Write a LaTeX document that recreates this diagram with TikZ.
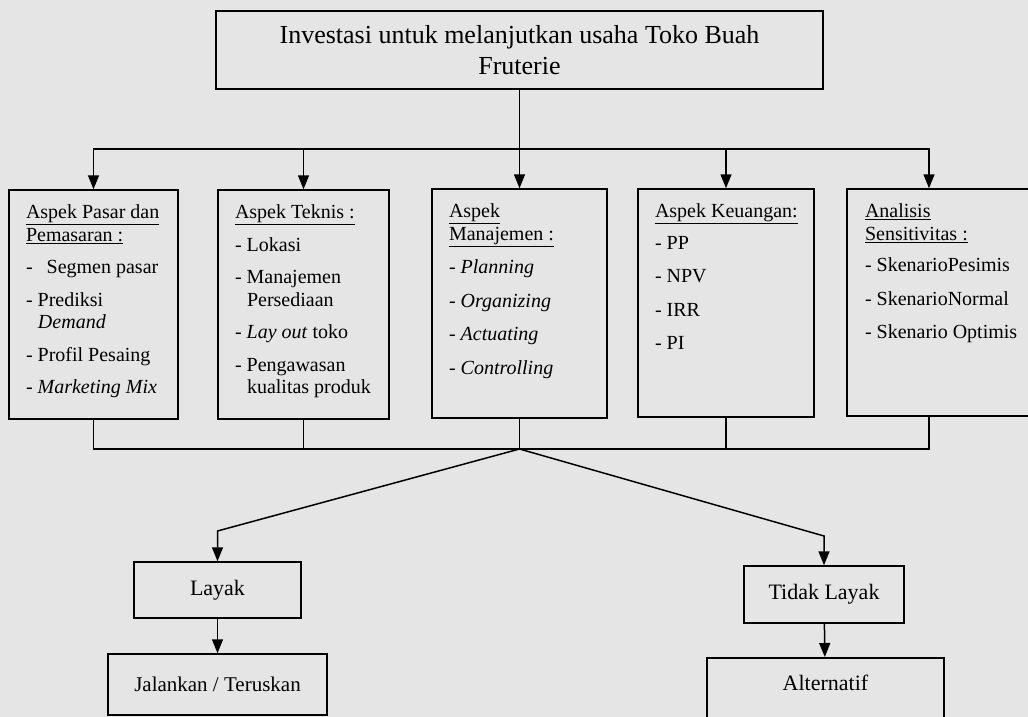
\documentclass[tikz,border=0pt]{standalone}
\usepackage{fontspec}
\setmainfont{Liberation Serif}
\usetikzlibrary{arrows.meta,positioning}

\newcommand{\isi}[3]{\begin{minipage}[t][#1][t]{#2}\fontsize{20}{22.5}\selectfont #3\end{minipage}}

\begin{document}
\begin{tikzpicture}[x=1pt,y=-1pt,
  kotak/.style={draw=black,line width=1.5pt,inner xsep=17pt,inner ysep=15pt},
  kecil/.style={draw=black,line width=1.5pt,align=center,font=\fontsize{22}{26}\selectfont},
  garis/.style={draw=black,line width=1.5pt},
  panah/.style={draw=black,line width=1.5pt,-{Triangle[length=14pt,width=11pt]}}]
\fill[black!10] (0,0) rectangle (1028,717);
\useasboundingbox (0,0) rectangle (1028,717);

\node[kotak,minimum width=607pt,minimum height=78pt,inner ysep=6pt,align=center,font=\fontsize{26}{31}\selectfont] (invest) at (519.5,50) {Investasi untuk melanjutkan usaha Toko Buah\\Fruterie};

\node[kotak,minimum width=169pt,minimum height=229pt] (pasar) at (93.5,304.5) {\isi{199pt}{135pt}{%
\underline{Aspek Pasar dan}\\
\underline{Pemasaran :}\\[10pt]
-\hspace{14pt}Segmen pasar\\[10pt]
- Prediksi\\
\hspace*{12pt}\textit{Demand}\\[10pt]
- Profil Pesaing\\[10pt]
- \textit{Marketing Mix}}};

\node[kotak,minimum width=171pt,minimum height=229pt] (teknis) at (303.5,304.5) {\isi{199pt}{137pt}{%
\underline{Aspek Teknis :}\\[10pt]
- Lokasi\\[10pt]
- Manajemen\\
\hspace*{12pt}Persediaan\\[10pt]
- \textit{Lay out} toko\\[10pt]
- Pengawasan\\
\hspace*{12pt}kualitas produk}};

\node[kotak,minimum width=175pt,minimum height=229pt] (manajemen) at (519.5,303.5) {\isi{199pt}{141pt}{%
\underline{Aspek}\\
\underline{Manajemen :}\\[11pt]
- \textit{Planning}\\[11pt]
- \textit{Organizing}\\[11pt]
- \textit{Actuating}\\[11pt]
- \textit{Controlling}}};

\node[kotak,minimum width=176pt,minimum height=228pt] (keuangan) at (726,303) {\isi{198pt}{142pt}{%
\underline{Aspek Keuangan:}\\[9pt]
- PP\\[11pt]
- NPV\\[11pt]
- IRR\\[11pt]
- PI}};

\node[kotak,minimum width=193pt,minimum height=227pt,inner xsep=18pt] (sensitivitas) at (943.5,302.5) {\isi{197pt}{157pt}{%
\underline{Analisis}\\
\underline{Sensitivitas :}\\[9pt]
- SkenarioPesimis\\[11pt]
- SkenarioNormal\\[11pt]
- Skenario Optimis}};

\node[kecil,minimum width=167pt,minimum height=56pt] (layak) at (217.5,590) {Layak};
\node[kecil,minimum width=219pt,minimum height=61pt,font=\fontsize{21}{25}\selectfont] (jalankan) at (217.5,684.5) {Jalankan / Teruskan};
\node[kecil,minimum width=160pt,minimum height=57pt] (tidak) at (824,594.5) {Tidak Layak};
\node[kecil,anchor=north,minimum width=237pt,inner ysep=17pt,text depth=40pt] (alternatif) at (825.5,657) {Alternatif};

\coordinate (atas) at (519.5,149);
\coordinate (bawah) at (519.5,449);
\coordinate (kiri) at (217.5,531);
\coordinate (kanan) at (824,536);

\draw[garis] (invest) -- (atas);
\draw[panah] (atas) -- (manajemen);
\draw[panah] (atas) -| (pasar);
\draw[panah] (atas) -| (teknis);
\draw[panah] (atas) -| (keuangan);
\draw[panah] (atas) -| ([xshift=-14.5pt]sensitivitas.north);

\draw[garis] (pasar) |- (bawah);
\draw[garis] (bawah) -| ([xshift=-14.5pt]sensitivitas.south);
\draw[garis] (manajemen) -- (bawah);
\foreach \k in {teknis,keuangan}
  \draw[garis] (\k) -- (\k |- bawah);

\draw[panah] (bawah) -- (kiri) -- (layak);
\draw[panah] (bawah) -- (kanan) -- (tidak);
\draw[panah] (layak) -- (jalankan);
\draw[panah] (tidak) -- (alternatif);
\end{tikzpicture}
\end{document}
